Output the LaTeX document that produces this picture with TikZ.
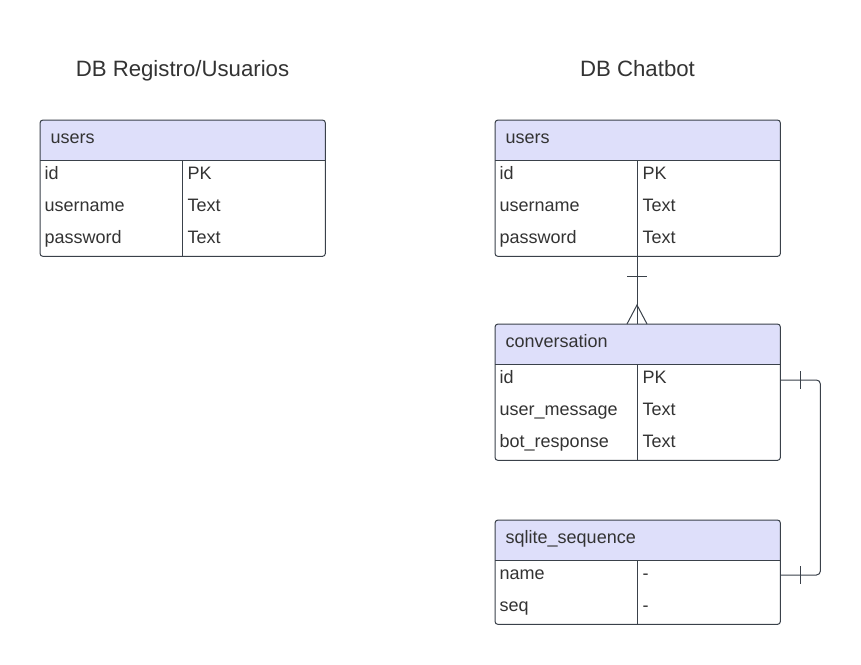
\documentclass[tikz,border=0pt]{standalone}
\usepackage{fontspec}
\setmainfont{Liberation Sans}
\definecolor{hdrc}{HTML}{DEDFFA}
\definecolor{linec}{HTML}{3A414A}
\definecolor{txtc}{HTML}{333333}
\tikzset{
  ln/.style={draw=linec, line width=1pt},
  hdr/.style={fill=hdrc},
  boxn/.style={draw=none, inner sep=0pt, minimum width=285pt},
  txt/.style={text=txtc, font=\fontsize{18}{21}\selectfont, inner sep=0pt},
  ttl/.style={text=txtc, font=\fontsize{22.2}{26}\selectfont, inner sep=0pt},
}
% #1 name, #2 x, #3 top, #4 height, #5 title
\newcommand\erbox[5]{%
  \node[boxn, minimum height=#4pt, anchor=north west] (#1) at (#2pt,-#3pt) {};
  \begin{scope}
    \clip[rounded corners=3pt] (#1.south west) rectangle (#1.north east);
    \fill[hdr] (#1.north west) rectangle ([yshift=-40pt]#1.north east);
  \end{scope}
  \draw[ln, rounded corners=3pt] (#1.south west) rectangle (#1.north east);
  \draw[ln] ([yshift=-40pt]#1.north west) -- ([yshift=-40pt]#1.north east);
  \draw[ln] ([xshift=142pt,yshift=-40pt]#1.north west) -- ([xshift=142pt]#1.south west);
  \node[txt, anchor=base west] (#1-t) at ([xshift=10.5pt,yshift=-23pt]#1.north west) {#5};
}
% #1 box, #2 row index, #3 left, #4 right
\newcommand\errow[4]{%
  \node[txt, anchor=base west] (#1-l#2) at ([xshift=4.5pt,yshift=-59.5pt-32pt*(#2-1)]#1.north west) {#3};
  \node[txt, anchor=base west] (#1-r#2) at ([xshift=147.5pt,yshift=-59.5pt-32pt*(#2-1)]#1.north west) {#4};
}
\begin{document}
\begin{tikzpicture}[x=1pt,y=1pt]
\useasboundingbox (0,0) rectangle (861,-664);
\fill[white] (0,0) rectangle (861,-664);

\node[ttl, anchor=base] (t1) at (182.5,-76) {DB Registro/Usuarios};
\node[ttl, anchor=base] (t2) at (637.5,-76) {DB Chatbot};

\erbox{lu}{40}{120}{136}{users}
\errow{lu}{1}{id}{PK}
\errow{lu}{2}{username}{Text}
\errow{lu}{3}{password}{Text}

\erbox{cu}{495}{120}{136}{users}
\errow{cu}{1}{id}{PK}
\errow{cu}{2}{username}{Text}
\errow{cu}{3}{password}{Text}

\erbox{cv}{495}{324}{136}{conversation}
\errow{cv}{1}{id}{PK}
\errow{cv}{2}{user\_message}{Text}
\errow{cv}{3}{bot\_response}{Text}

\erbox{sq}{495}{520}{104}{sqlite\_sequence}
\errow{sq}{1}{name}{-}
\errow{sq}{2}{seq}{-}

% users -> conversation (one to many)
\coordinate (a1) at ([xshift=142pt]cu.south west);
\coordinate (a2) at ([xshift=142pt]cv.north west);
\draw[ln] (a1) -- (a2);
\draw[ln] ([xshift=-10pt,yshift=-20pt]a1) -- ([xshift=10pt,yshift=-20pt]a1);
\draw[ln] ([xshift=-10pt]a2) -- ([yshift=19pt]a2) -- ([xshift=10pt]a2);

% conversation -> sqlite_sequence (one to one)
\coordinate (b1) at ([yshift=-56pt]cv.north east);
\coordinate (b2) at ([yshift=-55pt]sq.north east);
\draw[ln, rounded corners=4pt] (b1) -- ++(40,0) |- (b2);
\draw[ln] ([xshift=20pt,yshift=9pt]b1) -- ([xshift=20pt,yshift=-9pt]b1);
\draw[ln] ([xshift=20pt,yshift=9pt]b2) -- ([xshift=20pt,yshift=-9pt]b2);
\end{tikzpicture}
\end{document}
